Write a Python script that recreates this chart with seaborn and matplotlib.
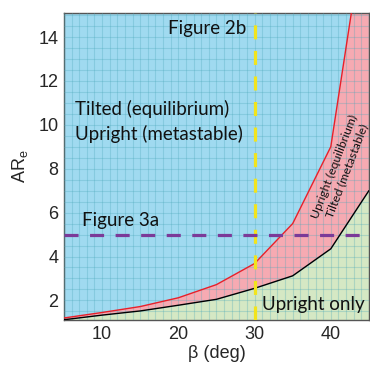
import matplotlib
matplotlib.use("Agg")
import matplotlib.pyplot as plt
from matplotlib.ticker import MultipleLocator
import numpy as np
import pandas as pd
import seaborn as sns

sns.set_theme(style='white')
plt.rcParams['font.family'] = ['Liberation Sans', 'DejaVu Sans']

# boundary curves (beta in deg, ARe)
beta = [5, 10, 15, 20, 25, 30, 35, 40, 45]
are_upper = [1.2, 1.45, 1.72, 2.12, 2.72, 3.68, 5.5, 9.0, 20.3]   # red line
are_lower = [1.12, 1.33, 1.52, 1.78, 2.05, 2.55, 3.12, 4.35, 7.0]  # black line

beta_fig2b = 30
are_fig3a = 5

df = pd.DataFrame({'beta': beta, 'upper': are_upper, 'lower': are_lower})

fig = plt.figure(figsize=(3.70, 3.68), dpi=100)
ax = fig.add_axes([0.173, 0.130, 0.824, 0.835])
ax.set_facecolor('#A0DAF0')

ax.fill_between(df['beta'], df['lower'], df['upper'], color='#F6AAB2', lw=0, zorder=1)
ax.fill_between(df['beta'], 0, df['lower'], color='#D5E8C4', lw=0, zorder=1)

ax.xaxis.set_minor_locator(MultipleLocator(1))
ax.yaxis.set_minor_locator(MultipleLocator(0.5))
ax.grid(which='both', color='#4AA8B8', alpha=0.3, lw=0.8, zorder=2)
ax.set_axisbelow(False)

sns.lineplot(data=df, x='beta', y='upper', color='#E8202A', lw=1.0, ax=ax, zorder=3)
sns.lineplot(data=df, x='beta', y='lower', color='black', lw=1.0, ax=ax, zorder=3)

ax.axvline(beta_fig2b, color='#F2E41C', lw=2.3, ls=(0, (4.4, 3.6)), zorder=4)
ax.axhline(are_fig3a, color='#7B3A98', lw=2.3, ls=(0, (4.4, 3.6)), zorder=4)

ax.set_xlim(5, 45)
ax.set_ylim(1.1, 15.1)
ax.set_xticks([10, 20, 30, 40])
ax.set_yticks([2, 4, 6, 8, 10, 12, 14])
ax.tick_params(which='both', direction='in', length=4, width=0.8, color='#444444',
               labelsize=13, pad=4)
for s in ax.spines.values():
    s.set_color('#555555')
    s.set_linewidth(1.0)
ax.set_xlabel('β (deg)', fontsize=13, labelpad=2)
ax.set_ylabel('AR$_\\mathregular{e}$', fontsize=13, labelpad=6)

tf = dict(family=['Lato', 'DejaVu Sans'], fontsize=13.5, color='#111111', zorder=5)
ax.text(28.9, 14.4, 'Figure 2b', ha='right', va='center', **tf)
ax.text(6.5, 10.7, 'Tilted (equilibrium)', ha='left', va='center', **tf)
ax.text(6.5, 9.6, 'Upright (metastable)', ha='left', va='center', **tf)
ax.text(7.3, 5.65, 'Figure 3a', ha='left', va='center', **tf)
ax.text(31.0, 1.8, 'Upright only', ha='left', va='center', **tf)
ax.text(41.3, 8.0, 'Upright (equilibrium)\nTilted (metastable)', ha='center', va='center',
        rotation=69, rotation_mode='anchor', linespacing=1.15,
        family=['Lato', 'DejaVu Sans'], fontsize=8.8, color='#111111', zorder=5)

fig.savefig('out.png', dpi=100)
